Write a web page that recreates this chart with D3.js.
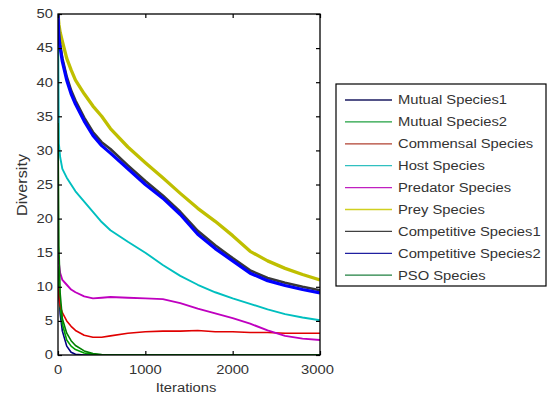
<!DOCTYPE html>
<html>
<head>
<meta charset="utf-8">
<script src="https://cdn.jsdelivr.net/npm/d3@7"></script>
<style>
  html, body { margin: 0; padding: 0; background: #fff; }
  svg { display: block; font-family: Arial, "Liberation Sans", sans-serif; }
</style>
</head>
<body>
<svg id="chart" width="547" height="396"></svg>
<script>
// ---- data ----
const iterations = [0, 10, 25, 50, 100, 150, 200, 300, 400, 500, 600, 800, 1000, 1200, 1400, 1600, 1800, 2000, 2200, 2400, 2600, 2800, 3000];

const mutual1     = [12, 9, 6, 3.5, 1.3, 0.4, 0.1, 0, 0, 0, 0, 0, 0, 0, 0, 0, 0, 0, 0, 0, 0, 0, 0];
const mutual2     = [13, 10, 7, 4.5, 2.2, 1.3, 0.8, 0.3, 0.1, 0, 0, 0, 0, 0, 0, 0, 0, 0, 0, 0, 0, 0, 0];
const commensal   = [10, 8.5, 7.2, 6.2, 5, 4.2, 3.6, 2.9, 2.6, 2.6, 2.8, 3.2, 3.4, 3.5, 3.5, 3.6, 3.4, 3.4, 3.3, 3.3, 3.2, 3.2, 3.2];
const host        = [50, 31, 29, 27.3, 26, 25, 24, 22.5, 21, 19.5, 18.3, 16.6, 15, 13.2, 11.6, 10.3, 9.2, 8.3, 7.5, 6.7, 6, 5.5, 5.1];
const predator    = [15, 13.5, 12, 11, 10.3, 9.6, 9.2, 8.6, 8.3, 8.4, 8.5, 8.4, 8.3, 8.2, 7.6, 6.8, 6.1, 5.4, 4.6, 3.6, 2.8, 2.4, 2.2];
const prey        = [50, 48.5, 47.3, 46, 43.5, 41.8, 40.3, 38.3, 36.5, 35, 33.2, 30.5, 28.2, 26, 23.7, 21.5, 19.6, 17.5, 15.2, 13.8, 12.7, 11.8, 11];
const competitive1 = [50, 47, 45.5, 43.5, 40.8, 38.8, 37.3, 34.8, 32.7, 31.2, 30.2, 27.8, 25.5, 23.4, 21, 18.2, 16.1, 14.2, 12.4, 11.3, 10.6, 10, 9.5];
const competitive2 = [50, 46.5, 45, 43, 40.3, 38.3, 36.8, 34.3, 32.2, 30.7, 29.6, 27.3, 25, 23, 20.6, 17.7, 15.6, 13.8, 12, 10.9, 10.2, 9.6, 9.1];
const pso         = [34, 16, 9, 5.3, 3.2, 2.1, 1.4, 0.6, 0.2, 0.05, 0, 0, 0, 0, 0, 0, 0, 0, 0, 0, 0, 0, 0];

const seriesNames = ["Mutual Species1", "Mutual Species2", "Commensal Species", "Host Species", "Predator Species", "Prey Species", "Competitive Species1", "Competitive Species2", "PSO Species"];
const seriesValues = [mutual1, mutual2, commensal, host, predator, prey, competitive1, competitive2, pso];
const xTicks = [0, 1000, 2000, 3000];
const yTicks = [0, 5, 10, 15, 20, 25, 30, 35, 40, 45, 50];

// ---- styles ----
const colors = ["#000080", "#00a000", "#e00000", "#00bfbf", "#bf00bf", "#bfbf00", "#383838", "#0000ff", "#008000"];
const widths = [1.6, 1.6, 1.6, 1.9, 1.9, 3.3, 2.6, 3.2, 1.6];
const legendColors = ["#1a1a60", "#20a040", "#b04030", "#30c0c0", "#c020c0", "#d0d020", "#404040", "#2020a0", "#208040"];

const svg = d3.select("#chart");
const plot = { left: 58, right: 320, top: 14, bottom: 355 };
const sx = 1.23; // horizontal text stretch seen in the reference

const x = d3.scaleLinear().domain([0, 3000]).range([plot.left, plot.right]);
const y = d3.scaleLinear().domain([0, 50]).range([plot.bottom, plot.top]);

svg.append("defs").append("clipPath").attr("id", "clip")
  .append("rect").attr("x", plot.left).attr("y", plot.top - 2)
  .attr("width", plot.right - plot.left).attr("height", plot.bottom - plot.top + 2);

const line = d3.line().x((d, i) => x(iterations[i])).y(d => y(d));
const g = svg.append("g").attr("clip-path", "url(#clip)");
seriesValues.forEach((vals, k) => {
  g.append("path").datum(vals)
    .attr("d", line)
    .attr("fill", "none")
    .attr("stroke", colors[k])
    .attr("stroke-width", widths[k])
    .attr("stroke-linejoin", "round");
});

svg.append("rect").attr("x", plot.left).attr("y", plot.top)
  .attr("width", plot.right - plot.left).attr("height", plot.bottom - plot.top)
  .attr("fill", "none").attr("stroke", "#000").attr("stroke-width", 1.3);

const axB = d3.axisBottom(x).tickValues(xTicks).tickSize(-4).tickFormat("");
const axT = d3.axisTop(x).tickValues(xTicks).tickSize(-4).tickFormat("");
const axL = d3.axisLeft(y).tickValues(yTicks).tickSize(-4).tickFormat("");
const axR = d3.axisRight(y).tickValues(yTicks).tickSize(-4).tickFormat("");
[[axB, `translate(0,${plot.bottom})`], [axT, `translate(0,${plot.top})`],
 [axL, `translate(${plot.left},0)`], [axR, `translate(${plot.right},0)`]].forEach(([ax, tr]) => {
  const a = svg.append("g").attr("transform", tr).call(ax);
  a.select(".domain").remove();
  a.selectAll(".tick line").attr("stroke", "#000").attr("stroke-width", 1.2);
});

const lab = svg.append("g").attr("font-size", 12).attr("fill", "#333");
yTicks.forEach(v => {
  lab.append("text").attr("transform", `translate(53,${y(v) + 4.3}) scale(${sx},1)`)
    .attr("text-anchor", "end").text(v);
});
xTicks.forEach(v => {
  lab.append("text").attr("transform", `translate(${x(v) - (v === 3000 ? 2.5 : 0)},374) scale(${sx},1)`)
    .attr("text-anchor", "middle").text(v);
});
lab.append("text").attr("transform", `translate(186,392) scale(${sx},1)`)
  .attr("text-anchor", "middle").text("Iterations");
lab.append("text").attr("transform", `translate(27,185) rotate(-90) scale(1.35,${sx})`)
  .attr("text-anchor", "middle").text("Diversity");

const lg = svg.append("g");
lg.append("rect").attr("x", 336).attr("y", 84).attr("width", 210).attr("height", 202)
  .attr("fill", "#fff").attr("stroke", "#000").attr("stroke-width", 1.2);
seriesNames.forEach((name, k) => {
  const yy = 100 + k * 21.9;
  lg.append("line").attr("x1", 345).attr("x2", 392).attr("y1", yy).attr("y2", yy)
    .attr("stroke", legendColors[k]).attr("stroke-width", 1.3);
  lg.append("text").attr("transform", `translate(398,${yy + 4.3}) scale(${sx},1)`)
    .attr("font-size", 12).attr("fill", "#333").text(name);
});
</script>
</body>
</html>
